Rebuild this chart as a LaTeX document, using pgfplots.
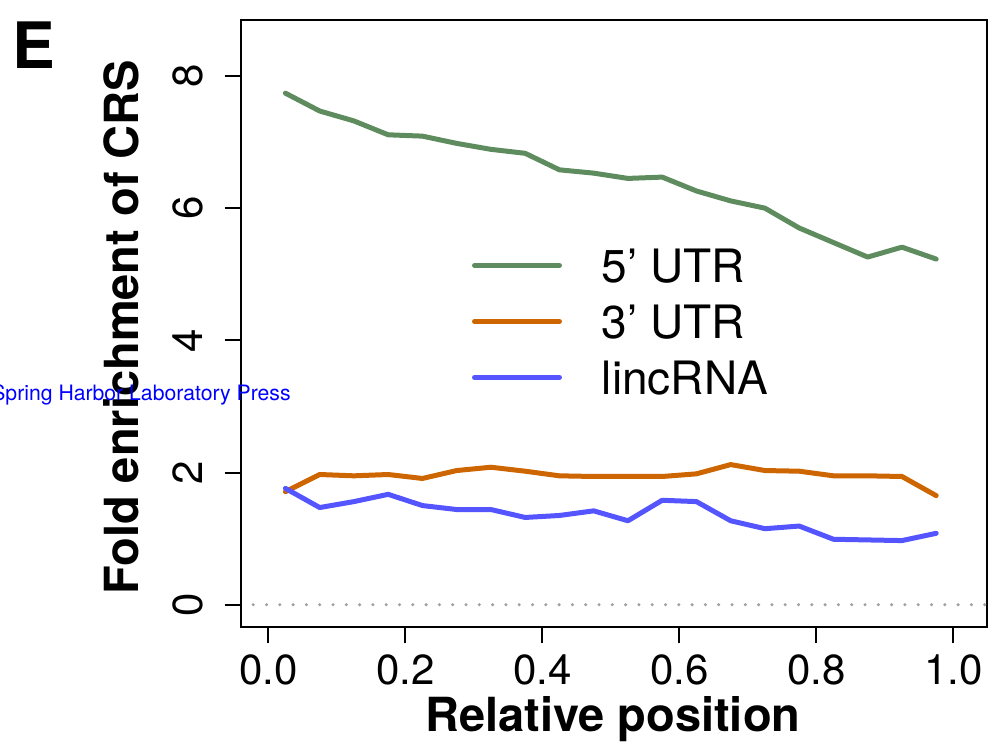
\documentclass[border=0pt]{standalone}
\usepackage{fontspec}
\setmainfont{TeX Gyre Heros}
\usepackage{pgfplots}
\pgfplotsset{compat=1.18}
\definecolor{cgreen}{RGB}{94,140,94}
\definecolor{corange}{RGB}{205,102,0}
\definecolor{cblue}{RGB}{85,85,255}
\definecolor{cdot}{RGB}{160,160,160}
\begin{document}
\begin{tikzpicture}
\path (0,0) rectangle (496.5pt,370.5pt);
\begin{axis}[
 at={(120.35pt,56.85pt)}, anchor=south west,
 scale only axis, width=373.3pt, height=303.65pt,
 xmin=-0.0403, xmax=1.0496, ymin=-0.342, ymax=8.847,
 axis line style={line width=1pt},
 every tick/.style={black, line width=1pt},
 tick align=outside, major tick length=8pt,
 xtick pos=bottom, ytick pos=left,
 xtick={0,0.2,0.4,0.6,0.8,1.0},
 xticklabels={0.0,0.2,0.4,0.6,0.8,1.0},
 ytick={0,2,4,6,8},
 /pgf/number format/assume math mode=true,
 tick label style={font=\fontsize{21}{21}\selectfont, inner sep=0pt},
 xticklabel style={anchor=north, yshift=-5.65pt},
 yticklabel style={xshift=-10.7pt, rotate=90, anchor=south},
 xlabel={Relative position}, ylabel={Fold enrichment of CRS},
 label style={font=\fontsize{23.5}{23.5}\selectfont\bfseries, inner sep=0pt},
 xlabel style={at={(axis description cs:0.4984,-0.1708)}, anchor=base},
 ylabel style={at={(axis description cs:-0.1372,0.494)}, anchor=base},
 legend style={draw=none, fill=none, inner sep=0pt, outer sep=0pt,
   at={(axis description cs:0.3098,0.6229)}, anchor=north west,
   column sep=0pt, row sep=11.5pt,
   nodes={inner sep=0pt, text height=16.5pt, text depth=0pt, font=\fontsize{23}{23}\selectfont}},
 legend cell align=left,
 legend image code/.code={\draw[#1, line cap=round] (1.25pt,0pt) -- (43.75pt,0pt); \path[draw=none, fill=none] (0pt,0pt) -- (65pt,0pt);},
]
\addplot[cdot, line width=1.7pt, line cap=round, dash pattern=on 0pt off 6.65pt, forget plot] coordinates {(-0.022,0) (1.0496,0)};
\addplot[cgreen, line width=2.5pt, line join=round, line cap=round] coordinates {
(0.025,7.74) (0.075,7.47) (0.125,7.32) (0.175,7.11) (0.225,7.09) (0.275,6.98) (0.325,6.89) (0.375,6.83) (0.425,6.58) (0.475,6.53) (0.525,6.45) (0.575,6.47) (0.625,6.26) (0.675,6.11) (0.725,6.00) (0.775,5.70) (0.825,5.48) (0.875,5.26) (0.925,5.41) (0.975,5.23)};
\addlegendentry{5' UTR}
\addplot[corange, line width=2.5pt, line join=round, line cap=round] coordinates {
(0.025,1.71) (0.075,1.97) (0.125,1.95) (0.175,1.97) (0.225,1.91) (0.275,2.03) (0.325,2.08) (0.375,2.02) (0.425,1.95) (0.475,1.94) (0.525,1.94) (0.575,1.94) (0.625,1.98) (0.675,2.12) (0.725,2.03) (0.775,2.02) (0.825,1.95) (0.875,1.95) (0.925,1.94) (0.975,1.65)};
\addlegendentry{3' UTR}
\addplot[cblue, line width=2.5pt, line join=round, line cap=round] coordinates {
(0.025,1.76) (0.075,1.47) (0.125,1.56) (0.175,1.67) (0.225,1.50) (0.275,1.44) (0.325,1.44) (0.375,1.32) (0.425,1.35) (0.475,1.42) (0.525,1.27) (0.575,1.58) (0.625,1.56) (0.675,1.27) (0.725,1.15) (0.775,1.19) (0.825,0.99) (0.875,0.98) (0.925,0.97) (0.975,1.08)};
\addlegendentry{lincRNA}
\end{axis}
\node[anchor=base west, inner sep=0pt, font=\fontsize{32}{32}\selectfont\bfseries] at (6pt,336pt) {E};
\node[anchor=base east, inner sep=0pt, font=\fontsize{10.6}{10.6}\selectfont, text=blue] at (145.5pt,170.5pt) {Spring Harbor Laboratory Press};
\pgfresetboundingbox
\useasboundingbox (0,0) rectangle (496.5pt,370.5pt);
\end{tikzpicture}
\end{document}
